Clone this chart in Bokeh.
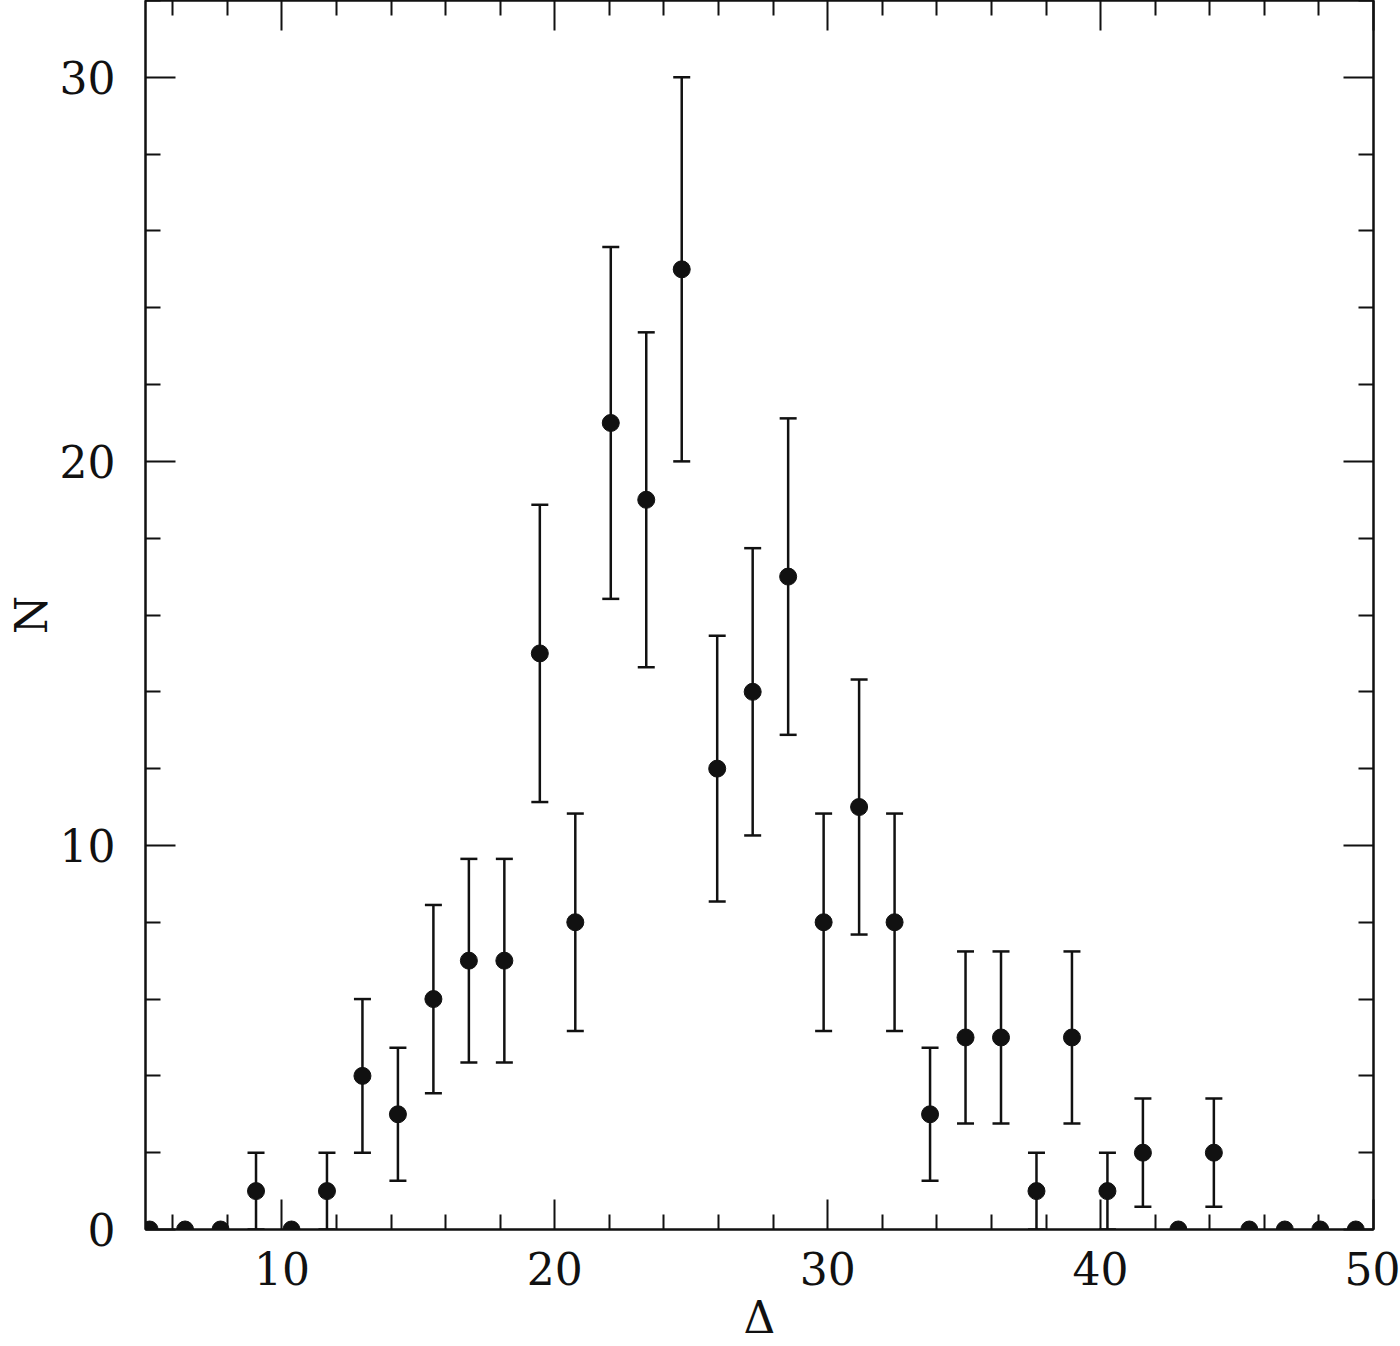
from bokeh.plotting import figure
from bokeh.models import Range1d, FixedTicker, LinearAxis, Whisker, TeeHead, ColumnDataSource
from bokeh.embed import file_html
from bokeh.resources import INLINE

# Data
delta = [5.15, 6.45, 7.75, 9.05, 10.35, 11.65, 12.95, 14.25, 15.55, 16.85, 18.15,
         19.45, 20.75, 22.05, 23.35, 24.65, 25.95, 27.25, 28.55, 29.85, 31.15, 32.45,
         33.75, 35.05, 36.35, 37.65, 38.95, 40.25, 41.55, 42.85, 44.15, 45.45, 46.75,
         48.05, 49.35]
counts = [0, 0, 0, 1, 0, 1, 4, 3, 6, 7, 7, 15, 8, 21, 19, 25, 12, 14, 17, 8, 11, 8,
          3, 5, 5, 1, 5, 1, 2, 0, 2, 0, 0, 0, 0]
errors = [0, 0, 0, 1.0, 0, 1.0, 2.0, 1.73, 2.45, 2.65, 2.65, 3.87, 2.83, 4.58, 4.36,
          5.0, 3.46, 3.74, 4.12, 2.83, 3.32, 2.83, 1.73, 2.24, 2.24, 1.0, 2.24, 1.0,
          1.41, 0, 1.41, 0, 0, 0, 0]
x_major = [10, 20, 30, 40, 50]
x_minor = [6, 8, 12, 14, 16, 18, 22, 24, 26, 28, 32, 34, 36, 38, 42, 44, 46, 48]
y_major = [0, 10, 20, 30]
y_minor = [2, 4, 6, 8, 12, 14, 16, 18, 22, 24, 26, 28, 32]
x_title = "Δ"
y_title = "N"

FONT = "DejaVu Serif"
INK = "#111111"

pts = ColumnDataSource(data=dict(x=delta, y=counts))
eb = ColumnDataSource(data=dict(
    x=[d for d, e in zip(delta, errors) if e > 0],
    lo=[c - e for c, e in zip(counts, errors) if e > 0],
    hi=[c + e for c, e in zip(counts, errors) if e > 0],
))

p = figure(width=1400, height=1346, x_range=Range1d(5, 50), y_range=Range1d(0, 32),
           output_backend="svg", toolbar_location=None,
           min_border_left=145, min_border_right=27, min_border_top=0, min_border_bottom=117)
p.grid.visible = False
p.outline_line_color = INK
p.outline_line_width = 2
p.background_fill_color = "white"
p.border_fill_color = "white"

xt = FixedTicker(ticks=x_major, minor_ticks=x_minor)
yt = FixedTicker(ticks=y_major, minor_ticks=y_minor)


def style(ax, show_labels):
    ax.axis_line_color = INK
    ax.axis_line_width = 2
    ax.major_tick_line_color = INK
    ax.major_tick_line_width = 2
    ax.minor_tick_line_color = INK
    ax.minor_tick_line_width = 2
    ax.major_tick_in = 30
    ax.major_tick_out = 0
    ax.minor_tick_in = 15
    ax.minor_tick_out = 0
    if show_labels:
        ax.major_label_text_font = FONT
        ax.major_label_text_font_size = "44px"
        ax.major_label_text_color = INK
        ax.axis_label_text_font = FONT
        ax.axis_label_text_font_size = "44px"
        ax.axis_label_text_font_style = "normal"
        ax.axis_label_text_color = INK
        ax.axis_label_text_line_height = 0.6
    else:
        ax.major_label_text_color = None
        ax.major_label_text_font_size = "1px"
        ax.major_label_standoff = 0


xa = p.xaxis[0]
xa.ticker = xt
style(xa, True)
xa.axis_label = x_title
xa.major_label_standoff = 22
xa.axis_label_standoff = 4

ya = p.yaxis[0]
ya.ticker = yt
style(ya, True)
ya.axis_label = y_title
ya.major_label_standoff = 30
ya.axis_label_standoff = 0

top = LinearAxis(ticker=xt)
style(top, False)
p.add_layout(top, "above")
right = LinearAxis(ticker=yt)
style(right, False)
p.add_layout(right, "right")

whisk = Whisker(source=eb, base="x", lower="lo", upper="hi", dimension="height",
                line_color=INK, line_width=2.5,
                lower_head=TeeHead(size=17, line_color=INK, line_width=2.5),
                upper_head=TeeHead(size=17, line_color=INK, line_width=2.5))
p.add_layout(whisk)

p.scatter("x", "y", source=pts, size=17, fill_color=INK, line_color=INK, marker="circle")

open("out.html", "w").write(file_html(p, INLINE))
